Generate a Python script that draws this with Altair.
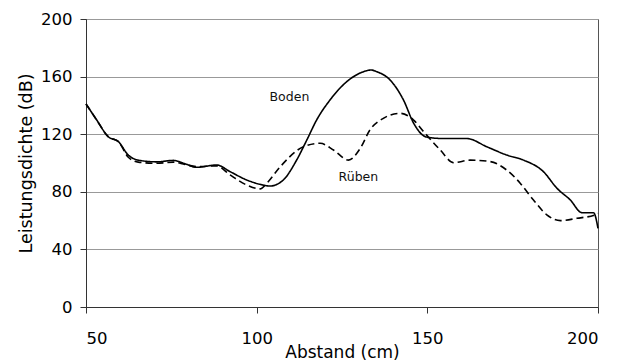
import altair as alt
import pandas as pd

boden_x = [50, 53.1, 56.5, 59.5, 62.4, 65.3, 70.7, 75.6, 79, 82.4, 88.3, 92.2, 97.1, 101, 103.9,
           107.8, 111.7, 114.7, 117.6, 121.5, 126.4, 131.3, 133.5, 135.2, 139.1, 143, 146, 149.8,
           154.7, 161.6, 167.4, 173.3, 178.2, 184, 188, 191.9, 195.3, 198.7, 200]
boden_y = [141, 130, 118.3, 114.8, 105.5, 102, 100.8, 101.8, 99.5, 97, 98.6, 94, 88.2, 85.2, 84,
           88.2, 102, 116, 130, 143.8, 156.5, 163.4, 164.6, 163.4, 157.6, 143.8, 127.6, 118,
           117, 117, 111.3, 105.5, 102, 94, 82.4, 74.3, 65.5, 65.5, 54.6]

rueben_x = [50, 53.1, 56.5, 59.5, 62.4, 65.3, 70.7, 75.6, 79, 82.4, 88.3, 92.2, 97.1, 101, 103,
            106.9, 113.7, 118.6, 122.5, 126.9, 130.3, 133.2, 137.1, 142, 145.9, 148.9,
            153.8, 157.7, 162.5, 168.4, 173.3, 177.2, 181.1, 185, 189, 193.8, 199.2, 200]
rueben_y = [141, 130, 118.3, 114.8, 104, 100.6, 99.8, 100.6, 99, 97.5, 98, 91.7, 84.7, 82, 86,
            97.4, 111.3, 113.7, 109, 102, 110, 123, 131, 134.5, 130, 121.8,
            109, 100.2, 102, 101, 95, 86, 74.3, 64, 60, 61.6, 64, 65]

series_names = ["Boden", "Rüben"]
label_x = [109.6, 129.8]
label_y = [145.6, 90]

df = pd.concat([
    pd.DataFrame({"x": boden_x, "y": boden_y, "s": series_names[0]}),
    pd.DataFrame({"x": rueben_x, "y": rueben_y, "s": series_names[1]}),
])
labels = pd.DataFrame({"x": label_x, "y": label_y, "t": series_names})

font = "DejaVu Sans"

xs = alt.Scale(domain=[50, 200], nice=False, zero=False)
ys = alt.Scale(domain=[0, 200], nice=False)

lines = alt.Chart(df).mark_line(color="black", strokeWidth=1.6, interpolate="monotone").encode(
    x=alt.X("x:Q", scale=xs, title="Abstand (cm)",
            axis=alt.Axis(values=[50, 100, 150, 200], grid=False, domainColor="#333",
                          tickColor="#333", tickSize=6, labelPadding=17, labelFontSize=16.5,
                          labelColor="#000", titleFontSize=17, titleFontWeight="normal",
                          titleColor="#000", titlePadding=-2, labelFont=font, titleFont=font)),
    y=alt.Y("y:Q", scale=ys, title="Leistungsdichte (dB)",
            axis=alt.Axis(values=[0, 40, 80, 120, 160, 200], gridColor="#999", gridWidth=1,
                          domainColor="#333", tickColor="#333", tickSize=6, labelPadding=8,
                          labelFontSize=16.5, labelColor="#000", titleFontSize=17.5,
                          titleFontWeight="normal", titleColor="#000", titlePadding=5,
                          labelFont=font, titleFont=font)),
    strokeDash=alt.StrokeDash("s:N", scale=alt.Scale(domain=series_names, range=[[1, 0], [7, 4]]),
                              legend=None),
    detail="s:N",
)

text = alt.Chart(labels).mark_text(font=font, fontSize=12.5, color="#111").encode(
    x=alt.X("x:Q", scale=xs), y=alt.Y("y:Q", scale=ys), text="t:N"
)

chart = (lines + text).properties(
    width=512, height=288,
    autosize=alt.AutoSizeParams(type="none"),
    padding={"left": 78, "top": 11, "right": 20, "bottom": 56},
).configure_view(stroke="#555", strokeWidth=1)

chart.save("out.html", embed_options={"renderer": "svg", "actions": False})
